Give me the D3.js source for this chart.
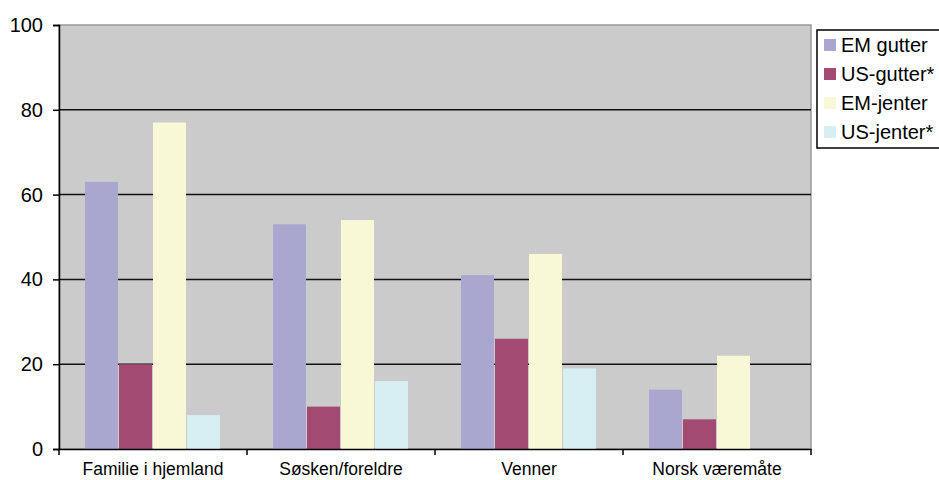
<!DOCTYPE html>
<html>
<head>
<meta charset="utf-8">
<script src="https://cdn.jsdelivr.net/npm/d3@7"></script>
<style>
  body { margin: 0; background: #fff; }
  svg { display: block; font-family: "Liberation Sans", Arial, sans-serif; }
</style>
</head>
<body>
<svg id="chart" width="939" height="480"></svg>
<script>
const categories = ['Familie i hjemland', 'Søsken/foreldre', 'Venner', 'Norsk væremåte'];
const seriesNames = ['EM gutter', 'US-gutter*', 'EM-jenter', 'US-jenter*'];
const seriesColors = ['#a9a6d0', '#a34a73', '#f8f8d6', '#d7eef3'];
const emGutter = [63, 53, 41, 14];
const usGutter = [20, 10, 26, 7];
const emJenter = [77, 54, 46, 22];
const usJenter = [8, 16, 19, null];
const yTicks = [0, 20, 40, 60, 80, 100];

const allSeries = [emGutter, usGutter, emJenter, usJenter];

const svg = d3.select('#chart');
const plot = { left: 59, right: 811, top: 25, bottom: 449 };

const x = d3.scaleBand().domain(categories).range([plot.left, plot.right]).padding(0);
const xInner = d3.scaleBand().domain(d3.range(4)).range([26, 161]).paddingInner(0.03);
const y = d3.scaleLinear().domain([0, 100]).range([plot.bottom, plot.top]);

// plot background
svg.append('rect')
    .attr('x', plot.left).attr('y', plot.top)
    .attr('width', plot.right - plot.left).attr('height', plot.bottom - plot.top)
    .attr('fill', '#cbcbcb')
    .attr('stroke', '#999').attr('stroke-width', 1.5);

// gridlines
svg.append('g')
    .selectAll('line')
    .data(yTicks.filter(t => t > 0 && t < 100))
    .enter().append('line')
    .attr('x1', plot.left).attr('x2', plot.right)
    .attr('y1', d => y(d)).attr('y2', d => y(d))
    .attr('stroke', '#111').attr('stroke-width', 1.5);

// bars
const groups = svg.append('g')
    .selectAll('g')
    .data(categories)
    .enter().append('g')
    .attr('transform', d => `translate(${x(d)},0)`);

groups.selectAll('rect')
    .data((d, i) => allSeries.map((s, k) => ({ k: k, v: s[i] })).filter(e => e.v != null))
    .enter().append('rect')
    .attr('x', d => xInner(d.k))
    .attr('width', xInner.bandwidth())
    .attr('y', d => y(d.v))
    .attr('height', d => y(0) - y(d.v))
    .attr('fill', d => seriesColors[d.k]);

// y axis
const yAxis = svg.append('g')
    .attr('transform', `translate(${plot.left},0)`)
    .call(d3.axisLeft(y).tickValues(yTicks).tickSize(6).tickPadding(10));
yAxis.select('.domain').attr('stroke', '#000').attr('stroke-width', 1.5);
yAxis.selectAll('.tick line').attr('stroke', '#000').attr('stroke-width', 1.5);
yAxis.selectAll('text').attr('font-size', 20).attr('fill', '#000');

// x axis
const xAxis = svg.append('g')
    .attr('transform', `translate(0,${plot.bottom})`)
    .call(d3.axisBottom(x).tickSize(0).tickPadding(14));
xAxis.select('.domain').attr('stroke', '#000').attr('stroke-width', 1.5);
xAxis.selectAll('text').attr('font-size', 17.5).attr('fill', '#000');

// ticks at category boundaries
svg.append('g')
    .selectAll('line')
    .data(categories.concat(['end']))
    .enter().append('line')
    .attr('x1', (d, i) => i < categories.length ? x(d) : plot.right)
    .attr('x2', (d, i) => i < categories.length ? x(d) : plot.right)
    .attr('y1', plot.bottom).attr('y2', plot.bottom + 6)
    .attr('stroke', '#000').attr('stroke-width', 1.5);

// legend
const legend = svg.append('g').attr('transform', 'translate(817,30)');
legend.append('rect')
    .attr('x', 0).attr('y', 0).attr('width', 140).attr('height', 118)
    .attr('fill', '#fff').attr('stroke', '#000').attr('stroke-width', 1.5);

const items = legend.selectAll('g.item')
    .data(seriesNames)
    .enter().append('g')
    .attr('class', 'item')
    .attr('transform', (d, i) => `translate(7,${15 + i * 29})`);

items.append('rect')
    .attr('x', 0).attr('y', -6).attr('width', 12).attr('height', 12)
    .attr('fill', (d, i) => seriesColors[i]);

items.append('text')
    .attr('x', 17).attr('y', 7)
    .attr('font-size', 20)
    .text(d => d);
</script>
</body>
</html>
